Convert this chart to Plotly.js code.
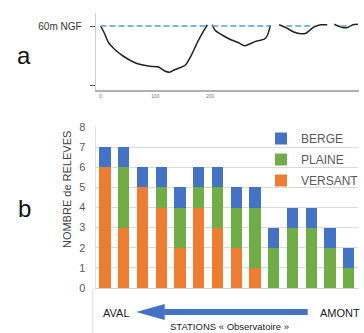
<!DOCTYPE html>
<html>
<head>
<meta charset="utf-8">
<script src="https://cdn.plot.ly/plotly-3.0.1.min.js"></script>
<style>html,body{margin:0;padding:0;background:#fff;}#chart{width:364px;height:333px;}</style>
</head>
<body>
<div id="chart"></div>
<script>
// ---- Panel b: stacked bars (14 "Observatoire" stations, aval -> amont)
const stations = [1,2,3,4,5,6,7,8,9,10,11,12,13,14];
const versant = [6,3,5,4,2,4,3,2,1,0,0,0,0,0];
const plaine  = [0,3,0,1,2,1,2,2,3,2,3,3,2,1];
const berge   = [1,1,1,1,1,1,1,1,1,1,1,1,1,1];
const seriesNames = ["VERSANT","PLAINE","BERGE"];
const legendRanks = {BERGE:1, PLAINE:2, VERSANT:3};
const yTicks = [0,1,2,3,4,5,6,7,8];

// ---- Panel a: cross-section profiles (distance, elevation m NGF)
const prof1X = [0,7,14,27,41,65,90,105,117,126,135,144,155,164,177,189,195];
const prof1Y = [60,58.8,57.3,56.0,55.0,53.8,53.3,53.2,52.5,52.3,52.7,53.0,53.5,54.8,57.3,59.3,60.2];
const prof2X = [204,209,222,236,252,263,272,285,299,305,310];
const prof2Y = [60.2,59.3,58.5,57.8,57.2,56.7,57.0,57.5,57.8,58.5,60.1];
const prof3X = [326,339,353,366,375,389,402,414];
const prof3Y = [60.2,59.7,59.0,58.7,58.8,59.8,60.2,60.2];
const prof4X = [427,434,445,452,461,470];
const prof4Y = [60.3,60.0,59.7,59.8,60.2,60.3];
const waterX = [0,195,null,204,310,null,339,389,null,438,456];
const waterY = [60,60,null,60,60,null,60,60,null,60,60];
const profTickVals = [50,60];
const profTickText = ["","60m NGF"];
const distTicks = [0,100,200];

const W = 364, H = 333;
const PX = x => x / W;
const PY = y => 1 - y / H;

const colors = {VERSANT:"#ED7D31", PLAINE:"#70AD47", BERGE:"#4472C4"};
const vals = {VERSANT:versant, PLAINE:plaine, BERGE:berge};

const traces = seriesNames.map(n => ({
  type:"bar", name:n, legendgroup:n, legendrank:legendRanks[n], x:stations, y:vals[n], xaxis:"x", yaxis:"y",
  marker:{color:colors[n], line:{width:0}}, hoverinfo:"skip"
}));

const profLine = {color:"#222222", width:1.5, shape:"spline", smoothing:0.6};
[[prof1X,prof1Y],[prof2X,prof2Y],[prof3X,prof3Y],[prof4X,prof4Y]].forEach(p => {
  traces.push({type:"scatter", mode:"lines", x:p[0], y:p[1], xaxis:"x2", yaxis:"y2",
    line:profLine, showlegend:false, hoverinfo:"skip"});
});
traces.push({type:"scatter", mode:"lines", x:waterX, y:waterY, xaxis:"x2", yaxis:"y2",
  line:{color:"#5B9BD5", width:1.5, dash:"6px,3px"}, showlegend:false, hoverinfo:"skip", connectgaps:false});

const font = "Liberation Sans, Arial, sans-serif";

const layout = {
  width:W, height:H,
  margin:{l:0,r:0,t:0,b:0},
  paper_bgcolor:"#fff", plot_bgcolor:"rgba(0,0,0,0)",
  font:{family:font, color:"#595959", size:11},
  barmode:"stack", bargap:0.4,
  showlegend:true,
  legend:{traceorder:"grouped", tracegroupgap:2, x:PX(265), y:PY(124), xanchor:"left", yanchor:"top",
    bgcolor:"rgba(0,0,0,0)", font:{size:12, color:"#595959"}, itemclick:false},
  xaxis:{domain:[PX(97),PX(363)], range:[0.5,14.5], showticklabels:false, ticks:"",
    showgrid:false, zeroline:false, showline:true, linecolor:"#d0d0d0", linewidth:1, anchor:"y", fixedrange:true},
  yaxis:{domain:[PY(288),PY(127)], range:[0,8], tickvals:yTicks, showgrid:true, gridcolor:"#d9d9d9",
    gridwidth:1, zeroline:false, showline:true, linecolor:"#e0e0e0", ticks:"", ticklabelstandoff:7,
    tickfont:{size:11, color:"#595959"}, anchor:"x", fixedrange:true},
  xaxis2:{domain:[PX(97),PX(364)], range:[-9,472], tickvals:distTicks, tickfont:{size:5, color:"#777"},
    showgrid:false, zeroline:false, showline:true, linecolor:"#b0b0b0", linewidth:2, ticks:"",
    anchor:"y2", fixedrange:true},
  yaxis2:{domain:[PY(90),PY(13)], range:[49.33,62.17], tickvals:profTickVals, ticktext:profTickText,
    tickfont:{size:10, color:"#333"}, ticks:"outside", ticklen:5, tickcolor:"#555", tickwidth:1,
    ticklabelstandoff:6,
    showgrid:false, zeroline:false, showline:true, linecolor:"#cfcfcf", linewidth:1,
    anchor:"x2", fixedrange:true},
  annotations:[
    {text:"a", x:PX(24), y:PY(56), xref:"paper", yref:"paper", showarrow:false,
      font:{size:24, color:"#111"}, xanchor:"center", yanchor:"middle"},
    {text:"b", x:PX(25), y:PY(208), xref:"paper", yref:"paper", showarrow:false,
      font:{size:24, color:"#111"}, xanchor:"center", yanchor:"middle"},
    {text:"NOMBRE de RELEVES", x:PX(68), y:PY(190), xref:"paper", yref:"paper", showarrow:false,
      textangle:-90, font:{size:11, color:"#404040"}, xanchor:"center", yanchor:"middle"},
    {text:"AVAL", x:PX(102), y:PY(313), xref:"paper", yref:"paper", showarrow:false,
      font:{size:11, color:"#222"}, xanchor:"left", yanchor:"middle"},
    {text:"AMONT", x:PX(322), y:PY(313), xref:"paper", yref:"paper", showarrow:false,
      font:{size:11, color:"#222"}, xanchor:"left", yanchor:"middle"},
    {text:"STATIONS « Observatoire »", x:PX(233), y:PY(326), xref:"paper", yref:"paper", showarrow:false,
      font:{size:9.5, color:"#222"}, xanchor:"center", yanchor:"middle"}
  ],
  shapes:[
    {type:"path", xref:"paper", yref:"paper", fillcolor:"#4472C4", line:{width:0},
      path:"M"+PX(138)+","+PY(312)+" L"+PX(167)+","+PY(304)+" L"+PX(167)+","+PY(309)+
           " L"+PX(312)+","+PY(309)+" L"+PX(312)+","+PY(315)+" L"+PX(167)+","+PY(315)+
           " L"+PX(167)+","+PY(320)+" Z"},
    {type:"line", xref:"paper", yref:"paper", x0:PX(94), x1:PX(94), y0:PY(289), y1:0,
      line:{color:"#dcdcdc", width:1}}
  ]
};

Plotly.newPlot("chart", traces, layout, {staticPlot:true, displayModeBar:false});
</script>
</body>
</html>
